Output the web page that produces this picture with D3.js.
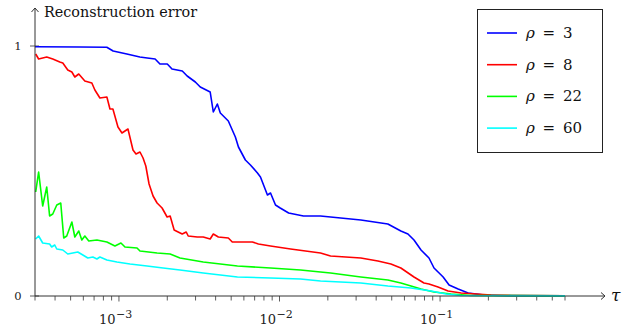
<!DOCTYPE html>
<meta charset="utf-8">
<script src="https://d3js.org/d3.v7.min.js"></script>
<style>
  body { margin: 0; background: #fff; }
  svg text { font-family: "DejaVu Serif", "Liberation Serif", serif; }
</style>
<body>
<div id="chart"></div>
<script>

// reconstruction error vs tau, one pair of arrays per rho
var tau3 = [3.0e-4, 5.7e-4, 8.4e-4, 9.2e-4, 1.12e-3, 1.35e-3, 1.50e-3, 1.68e-3, 1.80e-3, 2.0e-3, 2.14e-3, 2.48e-3, 2.66e-3, 2.99e-3, 3.21e-3, 3.70e-3, 3.87e-3, 4.10e-3, 4.28e-3, 4.80e-3, 5.08e-3, 5.31e-3, 5.55e-3, 6.13e-3, 6.59e-3, 7.29e-3, 7.61e-3, 8.18e-3, 8.41e-3, 8.79e-3, 9.44e-3, 1.01e-2, 1.14e-2, 1.41e-2, 1.80e-2, 2.08e-2, 3.21e-2, 4.73e-2, 5.70e-2, 6.31e-2, 6.88e-2, 7.61e-2, 8.53e-2, 9.17e-2, 0.1045, 0.1138, 0.1296, 0.1496, 0.188, 0.278, 0.6];
var err3 = [0.997, 0.996, 0.995, 0.98, 0.968, 0.956, 0.952, 0.948, 0.928, 0.928, 0.908, 0.90, 0.88, 0.856, 0.836, 0.816, 0.736, 0.768, 0.732, 0.70, 0.664, 0.636, 0.596, 0.544, 0.524, 0.492, 0.476, 0.424, 0.404, 0.412, 0.364, 0.352, 0.332, 0.32, 0.32, 0.316, 0.304, 0.288, 0.26, 0.248, 0.224, 0.184, 0.152, 0.112, 0.076, 0.044, 0.028, 0.012, 0.004, 0.001, 0.0005];

var tau8 = [3.03e-4, 3.16e-4, 3.35e-4, 3.55e-4, 3.87e-4, 4.28e-4, 4.47e-4, 4.80e-4, 5.09e-4, 5.31e-4, 5.62e-4, 6.13e-4, 6.78e-4, 7.08e-4, 7.61e-4, 8.41e-4, 8.79e-4, 9.17e-4, 9.86e-4, 1.044e-3, 1.138e-3, 1.223e-3, 1.277e-3, 1.352e-3, 1.413e-3, 1.47e-3, 1.54e-3, 1.631e-3, 1.728e-3, 1.856e-3, 1.995e-3, 2.084e-3, 2.207e-3, 2.337e-3, 2.477e-3, 2.624e-3, 2.70e-3, 3.073e-3, 3.35e-3, 3.70e-3, 3.87e-3, 4.16e-3, 4.80e-3, 5.08e-3, 6.78e-3, 7.39e-3, 8.79e-3, 1.172e-2, 1.80e-2, 2.08e-2, 3.21e-2, 4.10e-2, 4.94e-2, 5.70e-2, 6.88e-2, 7.94e-2, 8.53e-2, 9.71e-2, 0.1122, 0.1352, 0.208, 0.6];
var err8 = [0.968, 0.948, 0.952, 0.956, 0.948, 0.936, 0.932, 0.904, 0.896, 0.876, 0.888, 0.86, 0.852, 0.824, 0.792, 0.796, 0.748, 0.748, 0.676, 0.652, 0.668, 0.584, 0.568, 0.576, 0.552, 0.52, 0.448, 0.40, 0.372, 0.352, 0.316, 0.32, 0.264, 0.256, 0.248, 0.256, 0.24, 0.236, 0.236, 0.228, 0.248, 0.236, 0.232, 0.216, 0.216, 0.208, 0.20, 0.188, 0.172, 0.16, 0.152, 0.14, 0.128, 0.112, 0.076, 0.052, 0.048, 0.036, 0.02, 0.012, 0.004, 0.0005];

var tau22 = [3.03e-4, 3.16e-4, 3.35e-4, 3.55e-4, 3.70e-4, 3.87e-4, 4.10e-4, 4.34e-4, 4.53e-4, 4.73e-4, 5.09e-4, 5.31e-4, 5.62e-4, 5.87e-4, 6.13e-4, 6.49e-4, 7.29e-4, 8.41e-4, 9.44e-4, 1.029e-3, 1.09e-3, 1.296e-3, 1.352e-3, 1.728e-3, 2.084e-3, 2.40e-3, 3.35e-3, 5.47e-3, 8.79e-3, 1.352e-2, 1.80e-2, 2.08e-2, 3.21e-2, 4.73e-2, 5.70e-2, 6.59e-2, 7.61e-2, 9.17e-2, 0.1172, 0.156, 0.6];
var err22 = [0.416, 0.496, 0.36, 0.436, 0.32, 0.328, 0.364, 0.372, 0.232, 0.24, 0.296, 0.236, 0.26, 0.224, 0.24, 0.22, 0.224, 0.216, 0.20, 0.212, 0.196, 0.192, 0.18, 0.172, 0.168, 0.152, 0.136, 0.12, 0.112, 0.104, 0.096, 0.092, 0.076, 0.064, 0.052, 0.04, 0.028, 0.016, 0.008, 0.002, 0.0005];

var tau60 = [3.03e-4, 3.16e-4, 3.35e-4, 3.70e-4, 3.81e-4, 3.98e-4, 4.10e-4, 4.47e-4, 4.80e-4, 5.16e-4, 5.54e-4, 5.96e-4, 6.40e-4, 6.88e-4, 7.29e-4, 7.61e-4, 8.41e-4, 9.71e-4, 1.172e-3, 1.496e-3, 1.884e-3, 2.40e-3, 3.35e-3, 5.47e-3, 8.79e-3, 1.352e-2, 1.80e-2, 3.21e-2, 4.73e-2, 6.59e-2, 8.79e-2, 0.109, 0.1352, 0.6];
var err60 = [0.228, 0.24, 0.212, 0.208, 0.196, 0.204, 0.188, 0.184, 0.168, 0.172, 0.176, 0.164, 0.152, 0.156, 0.148, 0.156, 0.144, 0.136, 0.128, 0.12, 0.112, 0.104, 0.092, 0.076, 0.072, 0.068, 0.06, 0.052, 0.04, 0.032, 0.02, 0.008, 0.002, 0.0005];

var seriesNames = ["3", "8", "22", "60"];
var seriesColors = ["#0000ff", "#ff0000", "#00ff00", "#00ffff"];
var majorTicks = [1e-3, 1e-2, 1e-1];
var majorExp = ["\u22123", "\u22122", "\u22121"];
var yTicks = [0, 1];

var series = [
    { name: seriesNames[0], color: seriesColors[0], pts: d3.zip(tau3, err3) },
    { name: seriesNames[1], color: seriesColors[1], pts: d3.zip(tau8, err8) },
    { name: seriesNames[2], color: seriesColors[2], pts: d3.zip(tau22, err22) },
    { name: seriesNames[3], color: seriesColors[3], pts: d3.zip(tau60, err60) }
];

var W = 642, H = 331;

var svg = d3.select("#chart").append("svg")
    .attr("width", W).attr("height", H);

var x = d3.scaleLog().domain([3e-4, 0.6]).range([35, 565]);
var y = d3.scaleLinear().domain([0, 1]).range([296, 46]);

// minor ticks: 2..9 x each decade, inside domain
var minorTicks = [];
[1e-4, 1e-3, 1e-2, 1e-1].forEach(function (dec) {
    for (var k = 2; k <= 9; k++) {
        var v = k * dec;
        if (v >= 3e-4 - 1e-12 && v <= 0.6 + 1e-9) minorTicks.push(v);
    }
});

var axisCol = "#333";

// x ticks
svg.append("g").selectAll("line")
    .data(minorTicks).enter().append("line")
    .attr("x1", function (d) { return x(d); }).attr("x2", function (d) { return x(d); })
    .attr("y1", 296).attr("y2", 300.5)
    .attr("stroke", axisCol).attr("stroke-width", 0.8);
svg.append("g").selectAll("line")
    .data(majorTicks).enter().append("line")
    .attr("x1", function (d) { return x(d); }).attr("x2", function (d) { return x(d); })
    .attr("y1", 296).attr("y2", 301.5)
    .attr("stroke", axisCol).attr("stroke-width", 0.8);

// x tick labels 10^-k
var xl = svg.append("g").selectAll("text")
    .data(majorTicks).enter().append("text")
    .attr("x", function (d) { return x(d) - 20; })
    .attr("y", 324)
    .attr("font-size", "13px")
    .attr("fill", "#222");
xl.append("tspan").text("10");
xl.append("tspan")
    .attr("dy", -6.5)
    .attr("dx", 0.5)
    .attr("font-size", "11px")
    .text(function (d, i) { return majorExp[i]; });

// y ticks
svg.append("g").selectAll("line")
    .data(yTicks).enter().append("line")
    .attr("x1", 30).attr("x2", 39)
    .attr("y1", function (d) { return y(d); }).attr("y2", function (d) { return y(d); })
    .attr("stroke", axisCol).attr("stroke-width", 0.8);
svg.append("g").selectAll("text")
    .data(yTicks).enter().append("text")
    .attr("x", 18).attr("y", function (d) { return y(d) + 4; })
    .attr("text-anchor", "middle")
    .attr("font-size", "11.5px")
    .attr("fill", "#222")
    .text(function (d) { return d; });

// curves
var line = d3.line()
    .x(function (d) { return x(d[0]); })
    .y(function (d) { return y(d[1]); });

svg.append("g").selectAll("path")
    .data(series).enter().append("path")
    .attr("d", function (d) { return line(d.pts); })
    .attr("fill", "none")
    .attr("stroke", function (d) { return d.color; })
    .attr("stroke-width", 1.6)
    .attr("stroke-linejoin", "round");

// axes lines with arrows
svg.append("line")
    .attr("x1", 35).attr("x2", 605).attr("y1", 296).attr("y2", 296)
    .attr("stroke", axisCol).attr("stroke-width", 1);
svg.append("path")
    .attr("d", "M601,292.5 L605,296 L601,299.5")
    .attr("fill", "none").attr("stroke", axisCol).attr("stroke-width", 1);
svg.append("line")
    .attr("x1", 35).attr("x2", 35).attr("y1", 296).attr("y2", 8)
    .attr("stroke", axisCol).attr("stroke-width", 1);
svg.append("path")
    .attr("d", "M31.5,12 L35,8 L38.5,12")
    .attr("fill", "none").attr("stroke", axisCol).attr("stroke-width", 1);

// axis labels
svg.append("text")
    .attr("x", 44).attr("y", 17)
    .attr("font-size", "15px")
    .attr("fill", "#111")
    .attr("textLength", 153).attr("lengthAdjust", "spacingAndGlyphs")
    .text("Reconstruction error");
svg.append("text")
    .attr("x", 611).attr("y", 301)
    .attr("font-size", "17px")
    .attr("font-style", "italic")
    .attr("fill", "#111")
    .text("\u03c4");

// legend
var lg = svg.append("g");
lg.append("rect")
    .attr("x", 477.5).attr("y", 9.5).attr("width", 125).attr("height", 143)
    .attr("fill", "#fff").attr("stroke", "#222").attr("stroke-width", 1);
var item = lg.selectAll("g")
    .data(series).enter().append("g")
    .attr("transform", function (d, i) { return "translate(0," + (33 + i * 31.7) + ")"; });
item.append("line")
    .attr("x1", 487).attr("x2", 517).attr("y1", 0).attr("y2", 0)
    .attr("stroke", function (d) { return d.color; })
    .attr("stroke-width", 1.6);
var lt = item.append("text")
    .attr("x", 526).attr("y", 5)
    .attr("font-size", "15px")
    .attr("word-spacing", "3px")
    .attr("fill", "#111");
lt.append("tspan").attr("font-style", "italic").text("\u03c1");
lt.append("tspan").text(function (d) { return " = " + d.name; });

</script>
</body>
